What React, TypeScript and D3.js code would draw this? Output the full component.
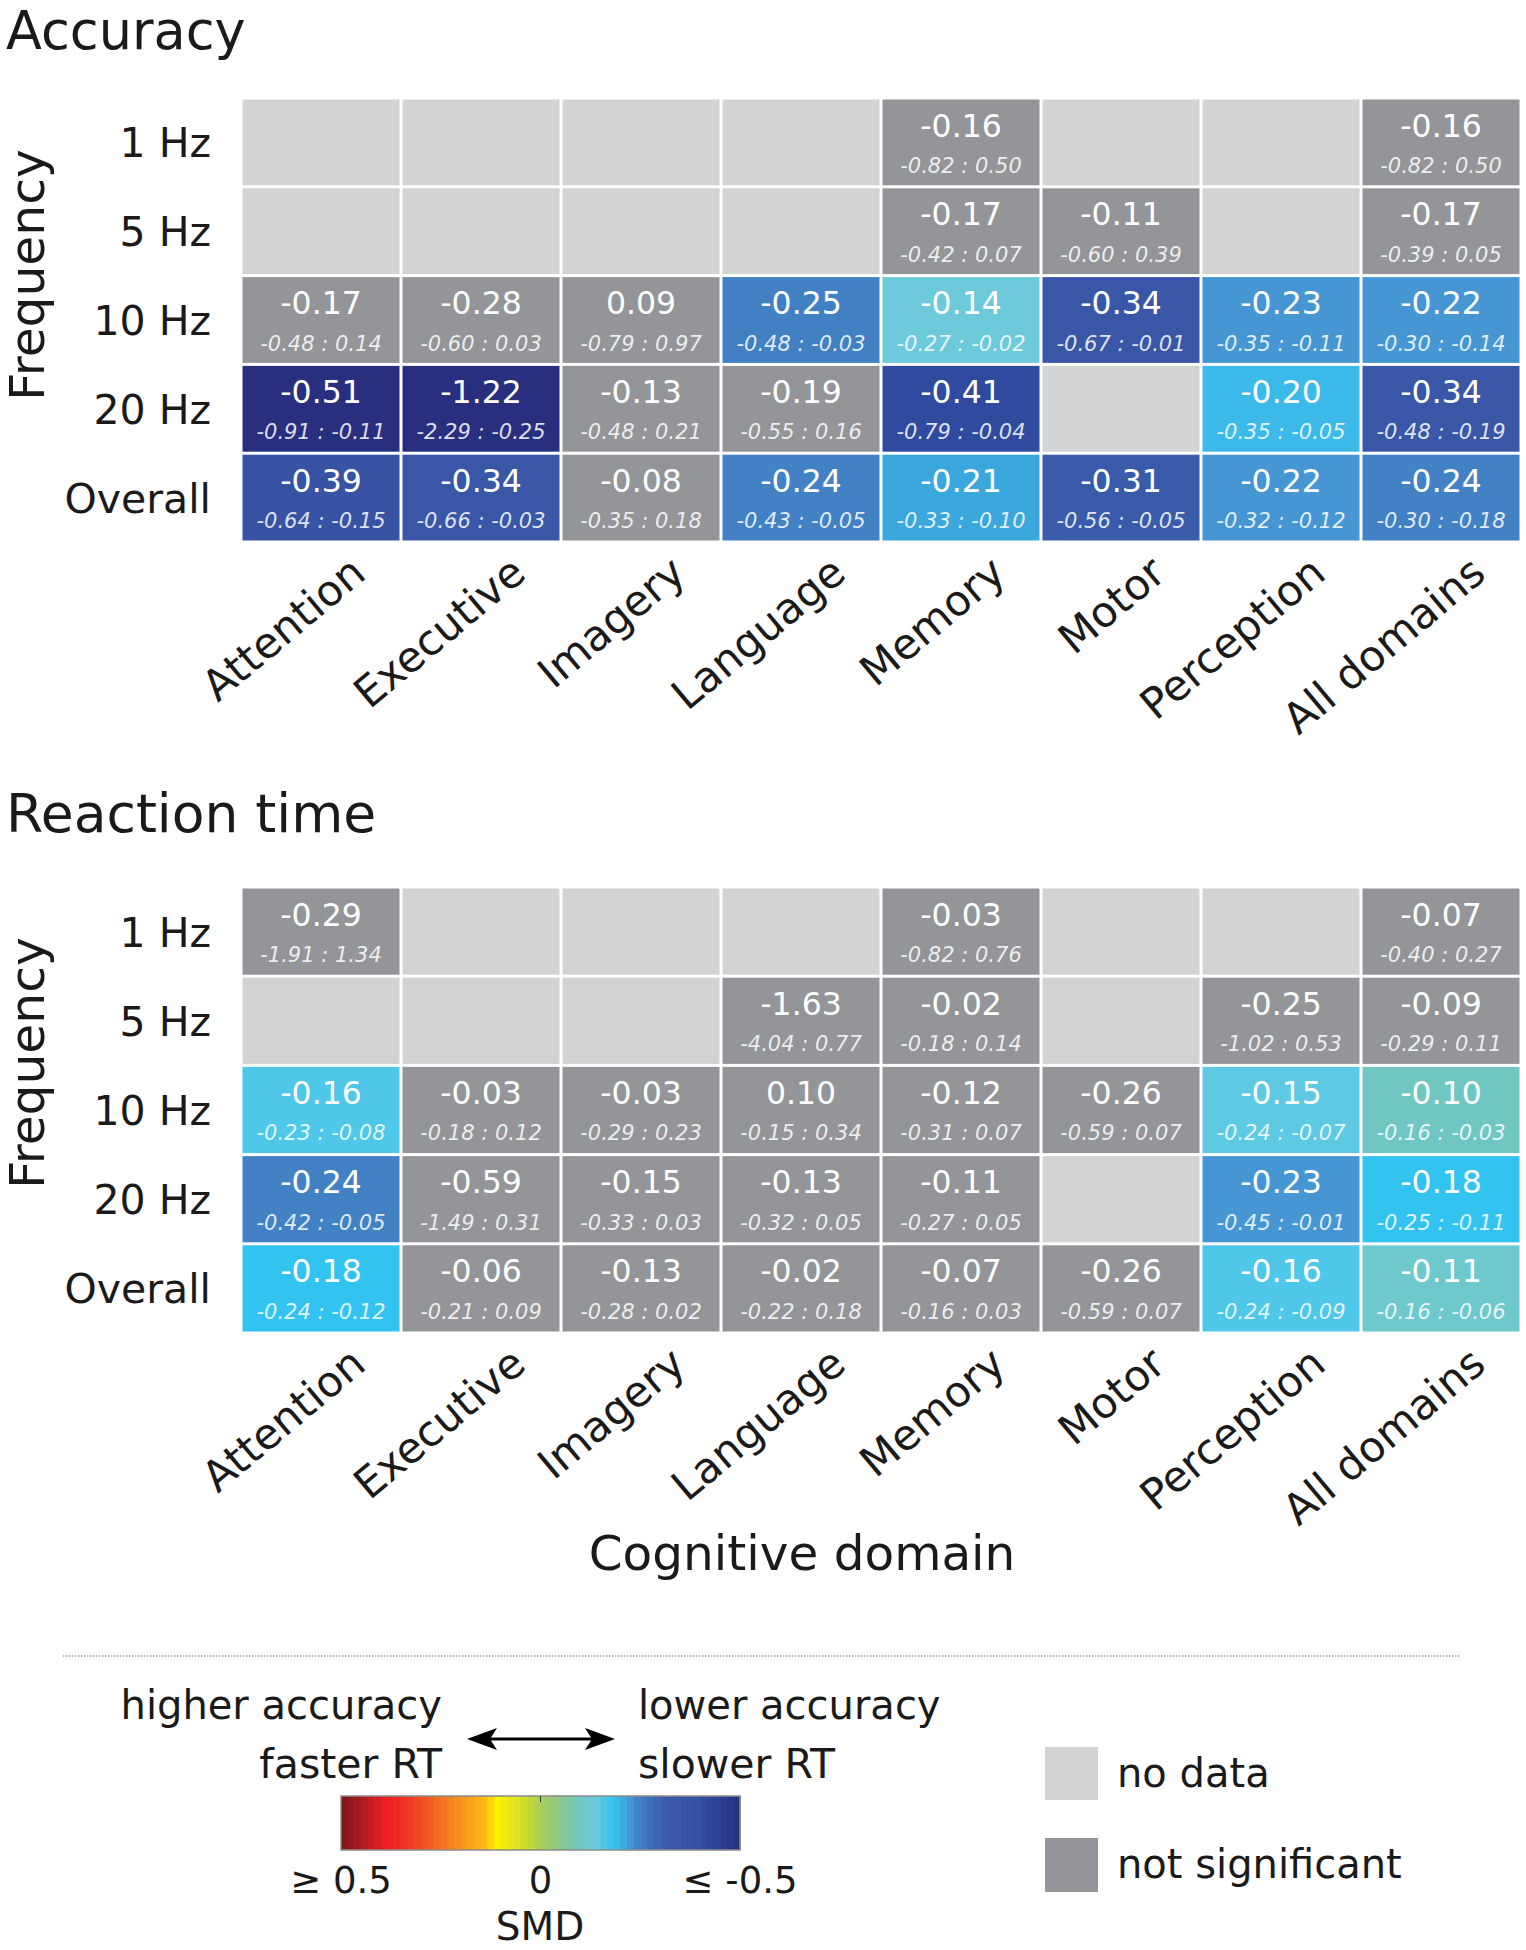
import React from "react";
import * as d3 from "d3";

const domains = ["Attention", "Executive", "Imagery", "Language", "Memory", "Motor", "Perception", "All domains"];
const frequencies = ["1 Hz", "5 Hz", "10 Hz", "20 Hz", "Overall"];

// Accuracy (rows = frequencies, columns = domains); null = no data
const accSmd = [
  [null, null, null, null, -0.16, null, null, -0.16],
  [null, null, null, null, -0.17, -0.11, null, -0.17],
  [-0.17, -0.28, 0.09, -0.25, -0.14, -0.34, -0.23, -0.22],
  [-0.51, -1.22, -0.13, -0.19, -0.41, null, -0.20, -0.34],
  [-0.39, -0.34, -0.08, -0.24, -0.21, -0.31, -0.22, -0.24],
];
const accLower = [
  [null, null, null, null, -0.82, null, null, -0.82],
  [null, null, null, null, -0.42, -0.60, null, -0.39],
  [-0.48, -0.60, -0.79, -0.48, -0.27, -0.67, -0.35, -0.30],
  [-0.91, -2.29, -0.48, -0.55, -0.79, null, -0.35, -0.48],
  [-0.64, -0.66, -0.35, -0.43, -0.33, -0.56, -0.32, -0.30],
];
const accUpper = [
  [null, null, null, null, 0.50, null, null, 0.50],
  [null, null, null, null, 0.07, 0.39, null, 0.05],
  [0.14, 0.03, 0.97, -0.03, -0.02, -0.01, -0.11, -0.14],
  [-0.11, -0.25, 0.21, 0.16, -0.04, null, -0.05, -0.19],
  [-0.15, -0.03, 0.18, -0.05, -0.10, -0.05, -0.12, -0.18],
];

// Reaction time
const rtSmd = [
  [-0.29, null, null, null, -0.03, null, null, -0.07],
  [null, null, null, -1.63, -0.02, null, -0.25, -0.09],
  [-0.16, -0.03, -0.03, 0.10, -0.12, -0.26, -0.15, -0.10],
  [-0.24, -0.59, -0.15, -0.13, -0.11, null, -0.23, -0.18],
  [-0.18, -0.06, -0.13, -0.02, -0.07, -0.26, -0.16, -0.11],
];
const rtLower = [
  [-1.91, null, null, null, -0.82, null, null, -0.40],
  [null, null, null, -4.04, -0.18, null, -1.02, -0.29],
  [-0.23, -0.18, -0.29, -0.15, -0.31, -0.59, -0.24, -0.16],
  [-0.42, -1.49, -0.33, -0.32, -0.27, null, -0.45, -0.25],
  [-0.24, -0.21, -0.28, -0.22, -0.16, -0.59, -0.24, -0.16],
];
const rtUpper = [
  [1.34, null, null, null, 0.76, null, null, 0.27],
  [null, null, null, 0.77, 0.14, null, 0.53, 0.11],
  [-0.08, 0.12, 0.23, 0.34, 0.07, 0.07, -0.07, -0.03],
  [-0.05, 0.31, 0.03, 0.05, 0.05, null, -0.01, -0.11],
  [-0.12, 0.09, 0.02, 0.18, 0.03, 0.07, -0.09, -0.06],
];

const colorbarTicks = ["≥ 0.5", "0", "≤ -0.5"];
const colorbarTickValues = [0.5, 0, -0.5];

// colour map stops (SMD -> colour)
const colorStopValues = [0.5, 0.46, 0.39, 0.35, 0.28, 0.2, 0.14, 0.12, 0.11, 0.07, 0.03, 0.0, -0.05, -0.1, -0.11, -0.14, -0.16, -0.18, -0.2, -0.21, -0.22, -0.23, -0.24, -0.25, -0.31, -0.34, -0.39, -0.41, -0.46, -0.5];
const colorStopHexes = ["#7a1518", "#9e1b20", "#ed1c24", "#ee2b24", "#f15a22", "#f7941d", "#fdb913", "#ffde10", "#fff200", "#e5e41f", "#c5d930", "#a6ce5a", "#8cc78c", "#70c7c2", "#6ec9cc", "#6ccadb", "#4ec7e9", "#33c3f0", "#3bb9e8", "#3aa7dd", "#4596d2", "#4596d2", "#4181c4", "#4080c3", "#3a5ba9", "#3a56a7", "#3852a4", "#2f4a9e", "#2b3d8f", "#272f7e"];

const NO_DATA = "#d1d3d4";
const NOT_SIG = "#939598";
const FONT = "'DejaVu Sans', sans-serif";
const INK = "#1a1a1a";

const color = d3.scaleLinear<string>().domain(colorStopValues).range(colorStopHexes).clamp(true);
const fmt = d3.formatLocale({ decimal: ".", thousands: ",", grouping: [3], currency: ["", ""], minus: "-" }).format(".2f");

const x = d3.scaleBand<string>().domain(domains).range([241, 1521]);

function Heatmap({ title, titleY, titleSize, top, bottom, smd, lower, upper, freqLabelY }: any) {
  const y = d3.scaleBand<string>().domain(frequencies).range([top, bottom]);
  const bw = x.bandwidth();
  const bh = y.bandwidth();
  const cells: any[] = [];
  frequencies.forEach((f, i) => {
    domains.forEach((d, j) => {
      const v = smd[i][j];
      const lo = lower[i][j];
      const hi = upper[i][j];
      let fill = NO_DATA;
      if (v !== null) fill = lo <= 0 && hi >= 0 ? NOT_SIG : color(v);
      cells.push(
        <g key={`${i}-${j}`}>
          <rect x={x(d)! + 1.5} y={y(f)! + 1.5} width={bw - 3} height={bh - 3} fill={fill} />
          {v !== null && (
            <>
              <text x={x(d)! + bw / 2} y={y(f)! + 38.5} textAnchor="middle" fontSize={31.5} fill="#fff" fontFamily={FONT}>
                {fmt(v)}
              </text>
              <text x={x(d)! + bw / 2} y={y(f)! + 75} textAnchor="middle" fontSize={21} fontStyle="italic" fill="#fff" fillOpacity={0.85} fontFamily={FONT}>
                {`${fmt(lo)} : ${fmt(hi)}`}
              </text>
            </>
          )}
        </g>
      );
    });
  });
  return (
    <g>
      <text x={6} y={titleY} fontSize={titleSize} fill={INK} fontFamily={FONT}>{title}</text>
      <text transform={`translate(44,${freqLabelY}) rotate(-90)`} textAnchor="middle" fontSize={48.7} fill={INK} fontFamily={FONT}>Frequency</text>
      {frequencies.map((f) => (
        <text key={f} x={211} y={y(f)! + bh / 2 + 15} textAnchor="end" fontSize={41} fill={INK} fontFamily={FONT}>{f}</text>
      ))}
      {cells}
      {domains.map((d) => (
        <text key={d} transform={`translate(${x(d)! + bw / 2 + 47},${bottom + 35}) rotate(-40)`} textAnchor="end" fontSize={42.5} fill={INK} fontFamily={FONT}>{d}</text>
      ))}
    </g>
  );
}

export default function App() {
  const barX = d3.scaleLinear().domain([0.5, -0.5]).range([341, 740]);
  const nBands = 60;
  const bandW = (barX(-0.5) - barX(0.5)) / nBands;
  const bands = d3.range(nBands).map((i) => {
    const v = barX.invert(barX(0.5) + (i + 0.5) * bandW);
    return { x: barX(0.5) + i * bandW, fill: color(v) };
  });
  return (
    <svg width={1526} height={1950} style={{ position: "absolute", left: 0, top: 0, background: "#fff" }}>
      <Heatmap title="Accuracy" titleY={49} titleSize={52.5} top={98} bottom={542} smd={accSmd} lower={accLower} upper={accUpper} freqLabelY={275} />
      <Heatmap title="Reaction time" titleY={832} titleSize={53.5} top={887} bottom={1333} smd={rtSmd} lower={rtLower} upper={rtUpper} freqLabelY={1063} />
      <text x={802} y={1570} textAnchor="middle" fontSize={48.5} fill={INK} fontFamily={FONT}>Cognitive domain</text>

      <line x1={63} x2={1460} y1={1656} y2={1656} stroke="#9a9a9a" strokeWidth={1.5} strokeDasharray="1.5,1.5" />

      <text x={442} y={1719} textAnchor="end" fontSize={40} fill={INK} fontFamily={FONT}>higher accuracy</text>
      <text x={442} y={1778} textAnchor="end" fontSize={41} fill={INK} fontFamily={FONT}>faster RT</text>
      <text x={638} y={1719} fontSize={40} fill={INK} fontFamily={FONT}>lower accuracy</text>
      <text x={638} y={1778} fontSize={41} fill={INK} fontFamily={FONT}>slower RT</text>
      <line x1={488} x2={594} y1={1739} y2={1739} stroke="#000" strokeWidth={3} />
      <path d="M467,1739 L497,1728 L490,1739 L497,1750 Z" fill="#000" />
      <path d="M615,1739 L585,1728 L592,1739 L585,1750 Z" fill="#000" />

      {bands.map((b, i) => (
        <rect key={i} x={b.x} y={1796} width={bandW + 0.6} height={54} fill={b.fill} />
      ))}
      <rect x={341} y={1796} width={399} height={54} fill="none" stroke="#8c8c8c" strokeWidth={1.5} />
      <line x1={barX(0)} x2={barX(0)} y1={1796} y2={1802} stroke="#333" strokeWidth={1} />
      {colorbarTicks.map((t, i) => (
        <text key={t} x={barX(colorbarTickValues[i])} y={1893} textAnchor="middle" fontSize={37} fill={INK} fontFamily={FONT}>{t}</text>
      ))}
      <text x={540} y={1940} textAnchor="middle" fontSize={39} fill={INK} fontFamily={FONT}>SMD</text>

      <rect x={1045} y={1747} width={53} height={53} fill={NO_DATA} />
      <rect x={1045} y={1838} width={53} height={54} fill={NOT_SIG} />
      <text x={1117} y={1787} fontSize={40} fill={INK} fontFamily={FONT}>no data</text>
      <text x={1117} y={1878} fontSize={40} fill={INK} fontFamily={FONT}>not significant</text>
    </svg>
  );
}
